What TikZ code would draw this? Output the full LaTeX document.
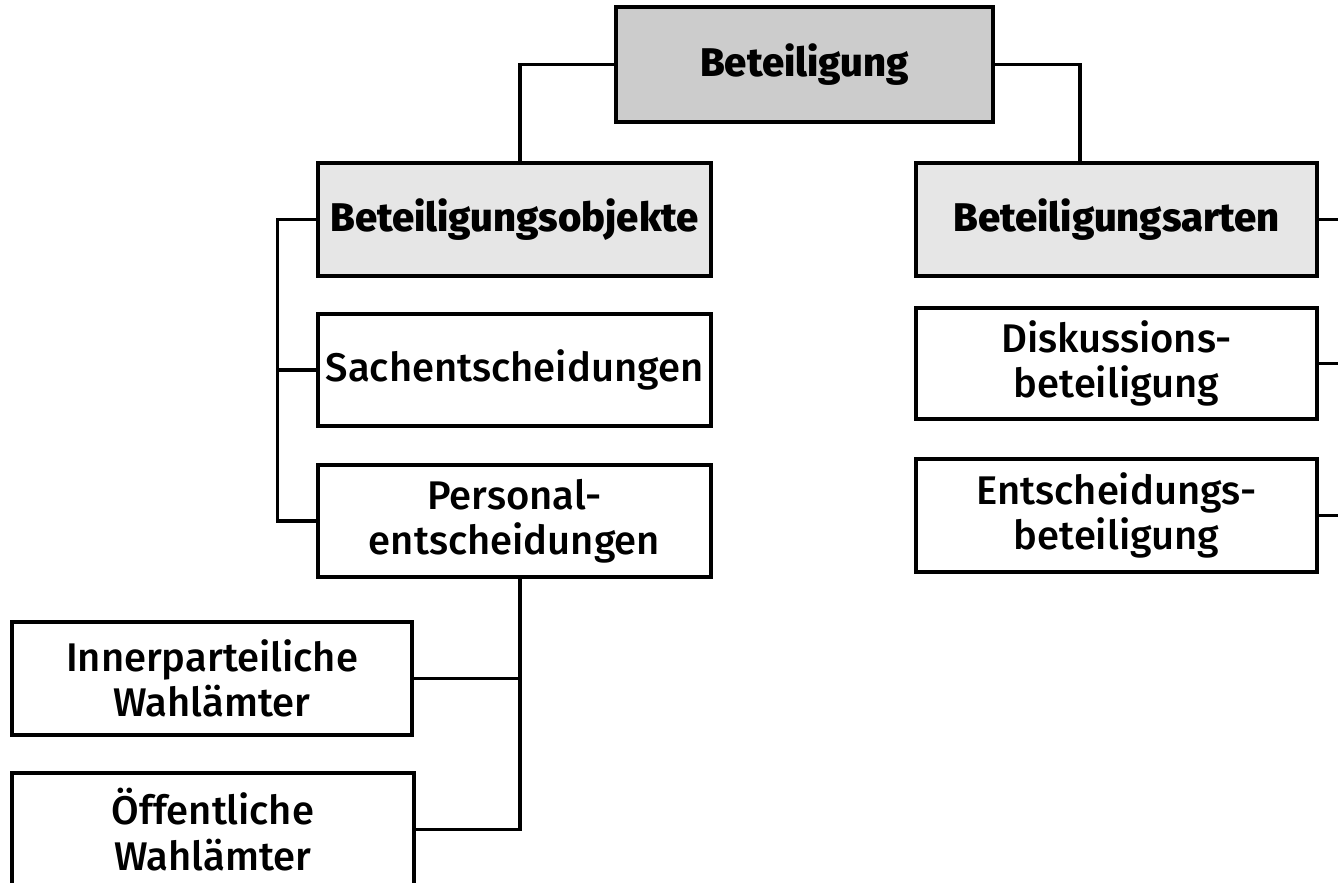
\documentclass[tikz,border=0pt]{standalone}
\usepackage{fontspec}
\setmainfont{Fira Sans}[UprightFont={* Medium}, BoldFont={* ExtraBold}]
\tikzset{every picture/.style={line width=2.6pt}}
\tikzset{
  boxroot/.style={draw, fill={rgb, 255:red, 204; green, 204; blue, 204}, inner sep=0pt, align=center, font=\fontsize{30}{34}\selectfont\bfseries},
  boxhead/.style={draw, fill={rgb, 255:red, 230; green, 230; blue, 230}, inner sep=0pt, align=center, font=\fontsize{30}{34}\selectfont\bfseries},
  boxleaf/.style={draw, fill=white, inner sep=0pt, align=center, font=\fontsize{30}{34}\selectfont},
}

\begin{document}
\begin{tikzpicture}[x=0.75pt,y=0.75pt,yscale=-1,xscale=1]
\clip (0,0) rectangle (1338,882);

%Shape: Rectangle [id:root]
\node [boxroot, minimum width=282.75pt, minimum height=86.25pt] (beteil) at (804.5,64.5) {Beteiligung};
%Shape: Rectangle [id:objekte]
\node [boxhead, minimum width=294.75pt, minimum height=84.75pt] (objekte) at (514.5,219.5) {Beteiligungsobjekte};
%Shape: Rectangle [id:arten]
\node [boxhead, minimum width=300.75pt, minimum height=84.75pt] (arten) at (1116.5,219.5) {Beteiligungsarten};
%Shape: Rectangle [id:sach]
\node [boxleaf, minimum width=294.75pt, minimum height=84pt] (sach) at (514.5,370) {Sachentscheidungen};
%Shape: Rectangle [id:pers]
\node [boxleaf, minimum width=294.75pt, minimum height=84pt] (pers) at (514.5,521) {Personal-\\entscheidungen};
%Shape: Rectangle [id:disk]
\node [boxleaf, minimum width=300.75pt, minimum height=83.25pt] (disk) at (1116.5,363.5) {Diskussions-\\beteiligung};
%Shape: Rectangle [id:ents]
\node [boxleaf, minimum width=300.75pt, minimum height=84.75pt] (ents) at (1116.5,515.5) {Entscheidungs-\\beteiligung};
%Shape: Rectangle [id:inner]
\node [boxleaf, minimum width=300pt, minimum height=84.75pt] (inner) at (212,678.5) {Innerparteiliche\\Wahlämter};
%Shape: Rectangle [id:oeff]
\node [boxleaf, minimum width=301.5pt, minimum height=84.75pt] (oeff) at (213,829.5) {Öffentliche\\Wahlämter};

%Straight Lines [id:top]
\draw (beteil.west) -| (520,0 |- objekte.north);
\draw (beteil.east) -| (1080,0 |- arten.north);
%Straight Lines [id:left bracket]
\draw (objekte.west) -- ++(-39,0) |- (pers.west);
\draw (sach.west) -- ++(-39,0);
%Straight Lines [id:personal]
\draw (520,0 |- pers.south) |- (oeff.east);
\draw (inner.east) -- (520,0 |- inner.east);
%Straight Lines [id:right side]
\draw (arten.east) -- ++(30,0);
\draw (disk.east) -- ++(30,0);
\draw (ents.east) -- ++(30,0);

\end{tikzpicture}
\end{document}
